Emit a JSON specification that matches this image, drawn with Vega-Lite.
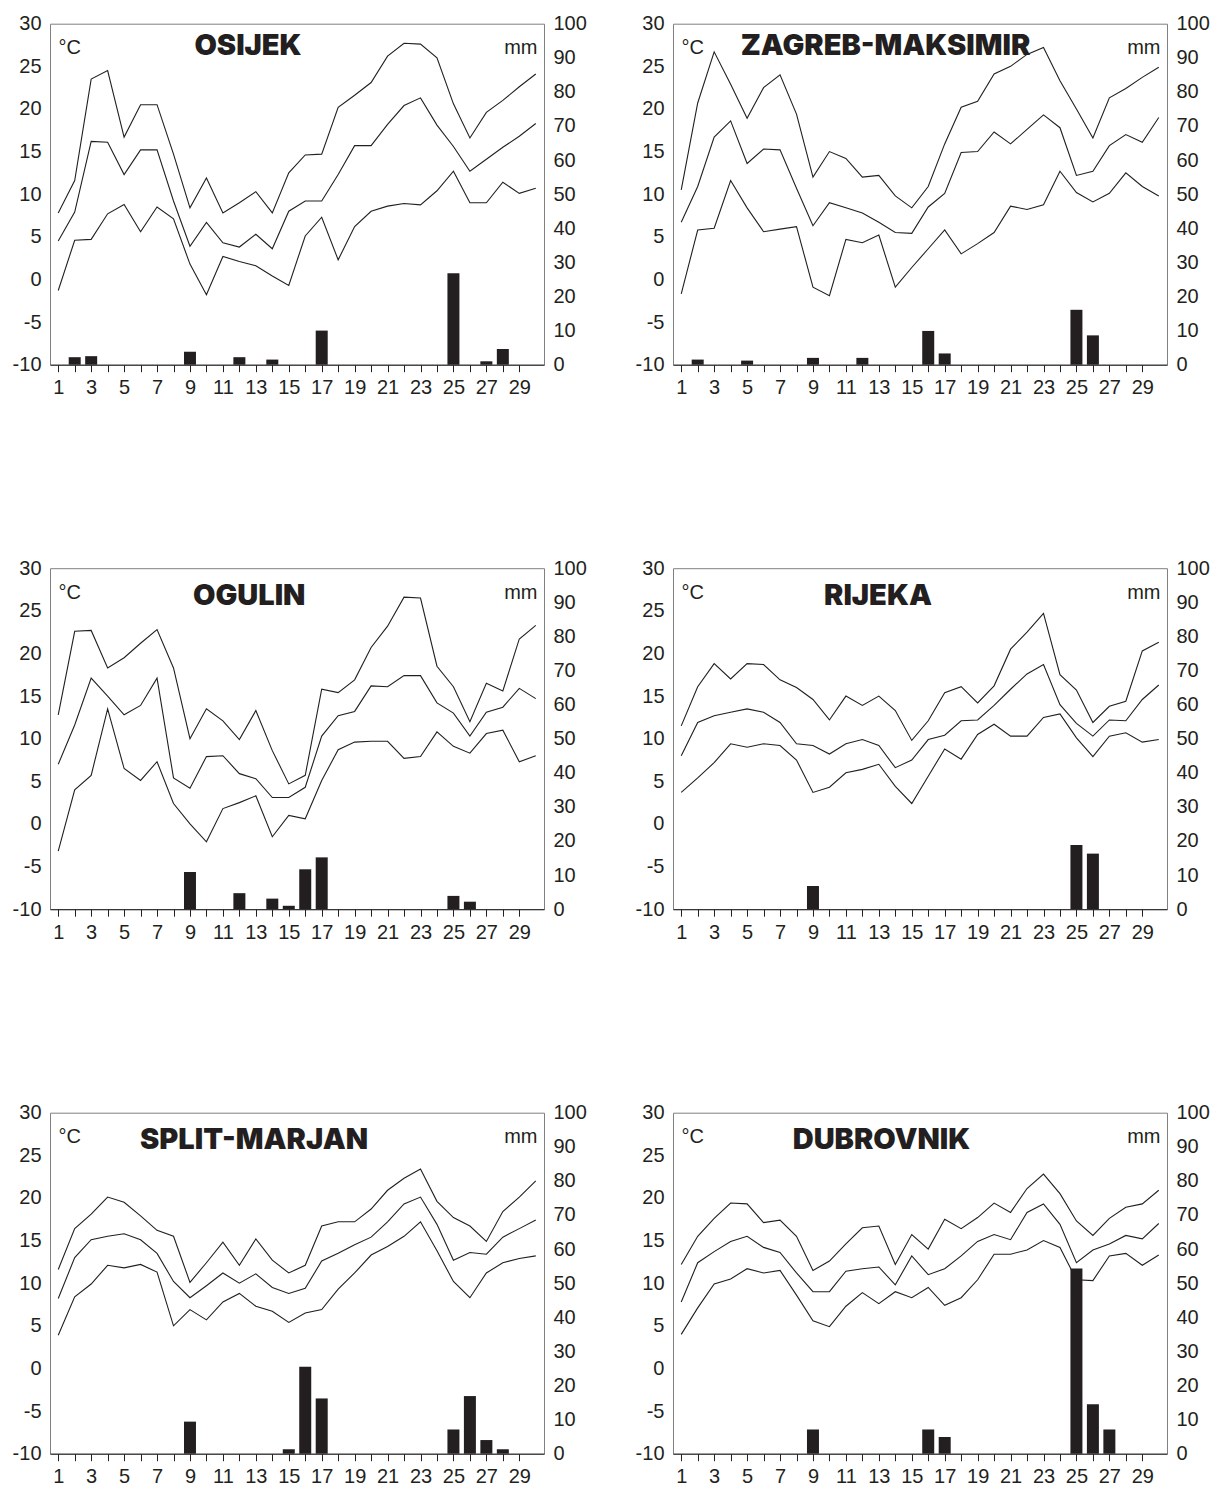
{
"$schema": "https://vega.github.io/schema/vega-lite/v6.json",
"padding": {"left": 11, "top": 12.7, "right": 0, "bottom": 0},
"background": "white",
"datasets": {"t": [
{"s":"OSIJEK","d":1,"hi":7.8,"me":4.5,"lo":-1.3,"p":0},
{"s":"OSIJEK","d":2,"hi":11.6,"me":7.9,"lo":4.6,"p":2.2},
{"s":"OSIJEK","d":3,"hi":23.5,"me":16.2,"lo":4.7,"p":2.5},
{"s":"OSIJEK","d":4,"hi":24.5,"me":16.1,"lo":7.7,"p":0},
{"s":"OSIJEK","d":5,"hi":16.7,"me":12.3,"lo":8.8,"p":0},
{"s":"OSIJEK","d":6,"hi":20.5,"me":15.2,"lo":5.6,"p":0},
{"s":"OSIJEK","d":7,"hi":20.5,"me":15.2,"lo":8.5,"p":0},
{"s":"OSIJEK","d":8,"hi":14.7,"me":9.2,"lo":7.1,"p":0},
{"s":"OSIJEK","d":9,"hi":8.4,"me":3.9,"lo":1.8,"p":3.8},
{"s":"OSIJEK","d":10,"hi":11.9,"me":6.7,"lo":-1.8,"p":0},
{"s":"OSIJEK","d":11,"hi":7.8,"me":4.3,"lo":2.7,"p":0},
{"s":"OSIJEK","d":12,"hi":9.0,"me":3.8,"lo":2.1,"p":2.2},
{"s":"OSIJEK","d":13,"hi":10.3,"me":5.3,"lo":1.6,"p":0},
{"s":"OSIJEK","d":14,"hi":7.8,"me":3.6,"lo":0.4,"p":1.5},
{"s":"OSIJEK","d":15,"hi":12.5,"me":8.0,"lo":-0.7,"p":0},
{"s":"OSIJEK","d":16,"hi":14.6,"me":9.2,"lo":5.1,"p":0},
{"s":"OSIJEK","d":17,"hi":14.7,"me":9.2,"lo":7.3,"p":10.0},
{"s":"OSIJEK","d":18,"hi":20.2,"me":12.3,"lo":2.3,"p":0},
{"s":"OSIJEK","d":19,"hi":21.6,"me":15.7,"lo":6.2,"p":0},
{"s":"OSIJEK","d":20,"hi":23.1,"me":15.7,"lo":8.0,"p":0},
{"s":"OSIJEK","d":21,"hi":26.2,"me":18.2,"lo":8.6,"p":0},
{"s":"OSIJEK","d":22,"hi":27.7,"me":20.4,"lo":8.9,"p":0},
{"s":"OSIJEK","d":23,"hi":27.6,"me":21.3,"lo":8.75,"p":0},
{"s":"OSIJEK","d":24,"hi":26.0,"me":18.1,"lo":10.4,"p":0},
{"s":"OSIJEK","d":25,"hi":20.6,"me":15.6,"lo":12.7,"p":26.8},
{"s":"OSIJEK","d":26,"hi":16.6,"me":12.7,"lo":9.0,"p":0},
{"s":"OSIJEK","d":27,"hi":19.6,"me":14.1,"lo":9.0,"p":1.0},
{"s":"OSIJEK","d":28,"hi":21.0,"me":15.5,"lo":11.4,"p":4.6},
{"s":"OSIJEK","d":29,"hi":22.6,"me":16.8,"lo":10.1,"p":0},
{"s":"OSIJEK","d":30,"hi":24.1,"me":18.3,"lo":10.7,"p":0},
{"s":"ZAGREB","d":1,"hi":10.5,"me":6.7,"lo":-1.7,"p":0},
{"s":"ZAGREB","d":2,"hi":20.7,"me":10.9,"lo":5.8,"p":1.5},
{"s":"ZAGREB","d":3,"hi":26.7,"me":16.7,"lo":6.0,"p":0},
{"s":"ZAGREB","d":4,"hi":22.9,"me":18.6,"lo":11.6,"p":0},
{"s":"ZAGREB","d":5,"hi":18.9,"me":13.6,"lo":8.4,"p":1.2},
{"s":"ZAGREB","d":6,"hi":22.5,"me":15.3,"lo":5.6,"p":0},
{"s":"ZAGREB","d":7,"hi":24.0,"me":15.2,"lo":5.9,"p":0},
{"s":"ZAGREB","d":8,"hi":19.4,"me":10.7,"lo":6.2,"p":0},
{"s":"ZAGREB","d":9,"hi":12.0,"me":6.3,"lo":-0.9,"p":2.0},
{"s":"ZAGREB","d":10,"hi":15.0,"me":9.0,"lo":-1.9,"p":0},
{"s":"ZAGREB","d":11,"hi":14.2,"me":8.4,"lo":4.7,"p":0},
{"s":"ZAGREB","d":12,"hi":12.0,"me":7.8,"lo":4.3,"p":2.0},
{"s":"ZAGREB","d":13,"hi":12.2,"me":6.7,"lo":5.2,"p":0},
{"s":"ZAGREB","d":14,"hi":9.8,"me":5.5,"lo":-0.9,"p":0},
{"s":"ZAGREB","d":15,"hi":8.4,"me":5.4,"lo":1.4,"p":0},
{"s":"ZAGREB","d":16,"hi":10.9,"me":8.5,"lo":3.6,"p":9.9},
{"s":"ZAGREB","d":17,"hi":15.9,"me":10.1,"lo":5.8,"p":3.3},
{"s":"ZAGREB","d":18,"hi":20.2,"me":14.9,"lo":3.0,"p":0},
{"s":"ZAGREB","d":19,"hi":20.9,"me":15.0,"lo":4.2,"p":0},
{"s":"ZAGREB","d":20,"hi":24.1,"me":17.3,"lo":5.5,"p":0},
{"s":"ZAGREB","d":21,"hi":25.0,"me":15.9,"lo":8.6,"p":0},
{"s":"ZAGREB","d":22,"hi":26.4,"me":17.6,"lo":8.2,"p":0},
{"s":"ZAGREB","d":23,"hi":27.2,"me":19.3,"lo":8.75,"p":0},
{"s":"ZAGREB","d":24,"hi":23.3,"me":17.8,"lo":12.7,"p":0},
{"s":"ZAGREB","d":25,"hi":20.0,"me":12.2,"lo":10.2,"p":16.1},
{"s":"ZAGREB","d":26,"hi":16.6,"me":12.7,"lo":9.1,"p":8.6},
{"s":"ZAGREB","d":27,"hi":21.3,"me":15.7,"lo":10.1,"p":0},
{"s":"ZAGREB","d":28,"hi":22.4,"me":17.0,"lo":12.5,"p":0},
{"s":"ZAGREB","d":29,"hi":23.7,"me":16.1,"lo":10.9,"p":0},
{"s":"ZAGREB","d":30,"hi":24.9,"me":19.0,"lo":9.8,"p":0},
{"s":"OGULIN","d":1,"hi":12.8,"me":7.0,"lo":-3.2,"p":0},
{"s":"OGULIN","d":2,"hi":22.6,"me":11.6,"lo":4.0,"p":0},
{"s":"OGULIN","d":3,"hi":22.7,"me":17.1,"lo":5.7,"p":0},
{"s":"OGULIN","d":4,"hi":18.3,"me":15.0,"lo":13.5,"p":0},
{"s":"OGULIN","d":5,"hi":19.5,"me":12.8,"lo":6.5,"p":0},
{"s":"OGULIN","d":6,"hi":21.2,"me":13.9,"lo":5.1,"p":0},
{"s":"OGULIN","d":7,"hi":22.8,"me":17.1,"lo":7.3,"p":0},
{"s":"OGULIN","d":8,"hi":18.3,"me":5.4,"lo":2.4,"p":0},
{"s":"OGULIN","d":9,"hi":10.0,"me":4.2,"lo":0.0,"p":10.9},
{"s":"OGULIN","d":10,"hi":13.5,"me":7.9,"lo":-2.1,"p":0},
{"s":"OGULIN","d":11,"hi":12.1,"me":8.0,"lo":1.8,"p":0},
{"s":"OGULIN","d":12,"hi":9.9,"me":5.9,"lo":2.5,"p":4.7},
{"s":"OGULIN","d":13,"hi":13.3,"me":5.3,"lo":3.3,"p":0},
{"s":"OGULIN","d":14,"hi":8.6,"me":3.1,"lo":-1.5,"p":3.1},
{"s":"OGULIN","d":15,"hi":4.7,"me":3.1,"lo":1.0,"p":1.0},
{"s":"OGULIN","d":16,"hi":5.7,"me":4.3,"lo":0.6,"p":11.7},
{"s":"OGULIN","d":17,"hi":15.8,"me":10.3,"lo":5.1,"p":15.2},
{"s":"OGULIN","d":18,"hi":15.4,"me":12.7,"lo":8.7,"p":0},
{"s":"OGULIN","d":19,"hi":16.9,"me":13.2,"lo":9.6,"p":0},
{"s":"OGULIN","d":20,"hi":20.7,"me":16.2,"lo":9.7,"p":0},
{"s":"OGULIN","d":21,"hi":23.2,"me":16.1,"lo":9.7,"p":0},
{"s":"OGULIN","d":22,"hi":26.6,"me":17.4,"lo":7.7,"p":0},
{"s":"OGULIN","d":23,"hi":26.5,"me":17.4,"lo":7.9,"p":0},
{"s":"OGULIN","d":24,"hi":18.5,"me":14.2,"lo":10.8,"p":0},
{"s":"OGULIN","d":25,"hi":16.1,"me":13.0,"lo":9.1,"p":3.9},
{"s":"OGULIN","d":26,"hi":12.0,"me":10.3,"lo":8.3,"p":2.2},
{"s":"OGULIN","d":27,"hi":16.5,"me":13.1,"lo":10.6,"p":0},
{"s":"OGULIN","d":28,"hi":15.6,"me":13.7,"lo":11.0,"p":0},
{"s":"OGULIN","d":29,"hi":21.7,"me":15.9,"lo":7.3,"p":0},
{"s":"OGULIN","d":30,"hi":23.3,"me":14.7,"lo":8.0,"p":0},
{"s":"RIJEKA","d":1,"hi":11.5,"me":8.0,"lo":3.7,"p":0},
{"s":"RIJEKA","d":2,"hi":16.1,"me":11.9,"lo":5.4,"p":0},
{"s":"RIJEKA","d":3,"hi":18.8,"me":12.7,"lo":7.2,"p":0},
{"s":"RIJEKA","d":4,"hi":17.0,"me":13.1,"lo":9.4,"p":0},
{"s":"RIJEKA","d":5,"hi":18.8,"me":13.5,"lo":9.0,"p":0},
{"s":"RIJEKA","d":6,"hi":18.7,"me":13.1,"lo":9.4,"p":0},
{"s":"RIJEKA","d":7,"hi":16.9,"me":11.9,"lo":9.2,"p":0},
{"s":"RIJEKA","d":8,"hi":16.0,"me":9.4,"lo":7.5,"p":0},
{"s":"RIJEKA","d":9,"hi":14.6,"me":9.2,"lo":3.7,"p":6.8},
{"s":"RIJEKA","d":10,"hi":12.2,"me":8.2,"lo":4.3,"p":0},
{"s":"RIJEKA","d":11,"hi":15.0,"me":9.4,"lo":6.0,"p":0},
{"s":"RIJEKA","d":12,"hi":13.9,"me":9.9,"lo":6.4,"p":0},
{"s":"RIJEKA","d":13,"hi":15.0,"me":9.2,"lo":7.0,"p":0},
{"s":"RIJEKA","d":14,"hi":13.3,"me":6.6,"lo":4.4,"p":0},
{"s":"RIJEKA","d":15,"hi":9.8,"me":7.5,"lo":2.4,"p":0},
{"s":"RIJEKA","d":16,"hi":12.1,"me":9.9,"lo":5.6,"p":0},
{"s":"RIJEKA","d":17,"hi":15.4,"me":10.4,"lo":8.8,"p":0},
{"s":"RIJEKA","d":18,"hi":16.1,"me":12.1,"lo":7.6,"p":0},
{"s":"RIJEKA","d":19,"hi":14.2,"me":12.2,"lo":10.5,"p":0},
{"s":"RIJEKA","d":20,"hi":16.2,"me":13.9,"lo":11.7,"p":0},
{"s":"RIJEKA","d":21,"hi":20.5,"me":15.8,"lo":10.3,"p":0},
{"s":"RIJEKA","d":22,"hi":22.5,"me":17.6,"lo":10.3,"p":0},
{"s":"RIJEKA","d":23,"hi":24.7,"me":18.7,"lo":12.5,"p":0},
{"s":"RIJEKA","d":24,"hi":17.5,"me":14.0,"lo":12.9,"p":0},
{"s":"RIJEKA","d":25,"hi":15.7,"me":11.8,"lo":10.1,"p":18.8},
{"s":"RIJEKA","d":26,"hi":11.9,"me":10.3,"lo":7.9,"p":16.3},
{"s":"RIJEKA","d":27,"hi":13.8,"me":12.2,"lo":10.3,"p":0},
{"s":"RIJEKA","d":28,"hi":14.4,"me":12.1,"lo":10.7,"p":0},
{"s":"RIJEKA","d":29,"hi":20.3,"me":14.6,"lo":9.6,"p":0},
{"s":"RIJEKA","d":30,"hi":21.3,"me":16.3,"lo":9.9,"p":0},
{"s":"SPLIT","d":1,"hi":11.6,"me":8.2,"lo":3.9,"p":0},
{"s":"SPLIT","d":2,"hi":16.4,"me":13.0,"lo":8.4,"p":0},
{"s":"SPLIT","d":3,"hi":18.1,"me":15.1,"lo":9.9,"p":0},
{"s":"SPLIT","d":4,"hi":20.1,"me":15.5,"lo":12.1,"p":0},
{"s":"SPLIT","d":5,"hi":19.5,"me":15.8,"lo":11.8,"p":0},
{"s":"SPLIT","d":6,"hi":17.9,"me":15.1,"lo":12.2,"p":0},
{"s":"SPLIT","d":7,"hi":16.2,"me":13.5,"lo":11.3,"p":0},
{"s":"SPLIT","d":8,"hi":15.5,"me":10.2,"lo":5.0,"p":0},
{"s":"SPLIT","d":9,"hi":10.1,"me":8.3,"lo":6.9,"p":9.4},
{"s":"SPLIT","d":10,"hi":12.4,"me":9.7,"lo":5.7,"p":0},
{"s":"SPLIT","d":11,"hi":14.8,"me":11.2,"lo":7.8,"p":0},
{"s":"SPLIT","d":12,"hi":12.1,"me":10.0,"lo":8.8,"p":0},
{"s":"SPLIT","d":13,"hi":15.2,"me":11.1,"lo":7.3,"p":0},
{"s":"SPLIT","d":14,"hi":12.7,"me":9.5,"lo":6.7,"p":0},
{"s":"SPLIT","d":15,"hi":11.2,"me":8.8,"lo":5.4,"p":1.3},
{"s":"SPLIT","d":16,"hi":12.1,"me":9.4,"lo":6.5,"p":25.5},
{"s":"SPLIT","d":17,"hi":16.7,"me":12.6,"lo":6.9,"p":16.2},
{"s":"SPLIT","d":18,"hi":17.2,"me":13.5,"lo":9.3,"p":0},
{"s":"SPLIT","d":19,"hi":17.2,"me":14.5,"lo":11.2,"p":0},
{"s":"SPLIT","d":20,"hi":18.7,"me":15.4,"lo":13.3,"p":0},
{"s":"SPLIT","d":21,"hi":20.9,"me":17.2,"lo":14.3,"p":0},
{"s":"SPLIT","d":22,"hi":22.3,"me":19.3,"lo":15.5,"p":0},
{"s":"SPLIT","d":23,"hi":23.4,"me":20.1,"lo":17.2,"p":0},
{"s":"SPLIT","d":24,"hi":19.6,"me":16.9,"lo":13.8,"p":0},
{"s":"SPLIT","d":25,"hi":17.7,"me":12.7,"lo":10.2,"p":7.1},
{"s":"SPLIT","d":26,"hi":16.7,"me":13.6,"lo":8.3,"p":16.9},
{"s":"SPLIT","d":27,"hi":14.9,"me":13.4,"lo":11.2,"p":4.0},
{"s":"SPLIT","d":28,"hi":18.4,"me":15.4,"lo":12.4,"p":1.3},
{"s":"SPLIT","d":29,"hi":20.1,"me":16.4,"lo":12.9,"p":0},
{"s":"SPLIT","d":30,"hi":22.0,"me":17.4,"lo":13.2,"p":0},
{"s":"DUBROVNIK","d":1,"hi":12.2,"me":7.8,"lo":4.0,"p":0},
{"s":"DUBROVNIK","d":2,"hi":15.5,"me":12.4,"lo":7.1,"p":0},
{"s":"DUBROVNIK","d":3,"hi":17.6,"me":13.7,"lo":9.9,"p":0},
{"s":"DUBROVNIK","d":4,"hi":19.4,"me":14.9,"lo":10.5,"p":0},
{"s":"DUBROVNIK","d":5,"hi":19.3,"me":15.5,"lo":11.7,"p":0},
{"s":"DUBROVNIK","d":6,"hi":17.1,"me":14.2,"lo":11.2,"p":0},
{"s":"DUBROVNIK","d":7,"hi":17.4,"me":13.6,"lo":11.5,"p":0},
{"s":"DUBROVNIK","d":8,"hi":15.5,"me":11.2,"lo":8.6,"p":0},
{"s":"DUBROVNIK","d":9,"hi":11.5,"me":9.0,"lo":5.6,"p":7.1},
{"s":"DUBROVNIK","d":10,"hi":12.6,"me":9.0,"lo":4.9,"p":0},
{"s":"DUBROVNIK","d":11,"hi":14.6,"me":11.4,"lo":7.3,"p":0},
{"s":"DUBROVNIK","d":12,"hi":16.5,"me":11.7,"lo":8.9,"p":0},
{"s":"DUBROVNIK","d":13,"hi":16.7,"me":11.9,"lo":7.6,"p":0},
{"s":"DUBROVNIK","d":14,"hi":12.2,"me":9.8,"lo":9.0,"p":0},
{"s":"DUBROVNIK","d":15,"hi":15.7,"me":13.2,"lo":8.3,"p":0},
{"s":"DUBROVNIK","d":16,"hi":14.0,"me":11.0,"lo":9.5,"p":7.1},
{"s":"DUBROVNIK","d":17,"hi":17.5,"me":11.7,"lo":7.4,"p":4.9},
{"s":"DUBROVNIK","d":18,"hi":16.4,"me":13.2,"lo":8.3,"p":0},
{"s":"DUBROVNIK","d":19,"hi":17.7,"me":14.9,"lo":10.4,"p":0},
{"s":"DUBROVNIK","d":20,"hi":19.4,"me":15.7,"lo":13.4,"p":0},
{"s":"DUBROVNIK","d":21,"hi":18.3,"me":15.1,"lo":13.4,"p":0},
{"s":"DUBROVNIK","d":22,"hi":21.1,"me":18.3,"lo":13.9,"p":0},
{"s":"DUBROVNIK","d":23,"hi":22.8,"me":19.3,"lo":15.0,"p":0},
{"s":"DUBROVNIK","d":24,"hi":20.5,"me":16.9,"lo":14.2,"p":0},
{"s":"DUBROVNIK","d":25,"hi":17.3,"me":12.4,"lo":10.4,"p":54.3},
{"s":"DUBROVNIK","d":26,"hi":15.6,"me":13.9,"lo":10.3,"p":14.5},
{"s":"DUBROVNIK","d":27,"hi":17.6,"me":14.6,"lo":13.2,"p":7.1},
{"s":"DUBROVNIK","d":28,"hi":18.9,"me":15.6,"lo":13.5,"p":0},
{"s":"DUBROVNIK","d":29,"hi":19.3,"me":15.2,"lo":12.1,"p":0},
{"s":"DUBROVNIK","d":30,"hi":20.9,"me":17.0,"lo":13.3,"p":0}
]},
"columns": 2,
"spacing": {"row": 203.5, "column": 129},
"bounds": "flush",
"concat": [
{"width": 494, "height": 341, "data": {"name": "t"}, "transform": [{"filter": "datum.s == 'OSIJEK'"}],
 "layer": [
  {"transform": [{"fold": ["hi", "me", "lo"]}], "mark": {"type": "line", "color": "#231f20", "strokeWidth": 1.1},
   "encoding": {"x": {"field": "d", "type": "quantitative", "scale": {"domain": [0.5, 30.5], "padding": 0}, "axis": {"values": [1,2,3,4,5,6,7,8,9,10,11,12,13,14,15,16,17,18,19,20,21,22,23,24,25,26,27,28,29], "labelExpr": "datum.value % 2 == 1 ? '' + datum.value : ''", "title": null}},
    "y": {"field": "value", "type": "quantitative", "scale": {"domain": [-10, 30]}, "axis": {"values": [-10,-5,0,5,10,15,20,25,30], "labelExpr": "'' + datum.value", "title": "°C"}},
    "detail": {"field": "key"}}},
  {"transform": [{"filter": "datum.p > 0"}], "mark": {"type": "bar", "orient": "vertical", "size": 12, "color": "#231f20"},
   "encoding": {"x": {"field": "d", "type": "quantitative", "scale": {"domain": [0.5, 30.5], "padding": 0}, "axis": {"orient": "top", "title": "OSIJEK", "titleX": 197.5, "titleY": 31}},
    "y": {"field": "p", "type": "quantitative", "scale": {"domain": [0, 100]}, "axis": {"orient": "right", "values": [0,10,20,30,40,50,60,70,80,90,100], "title": "mm"}}}}
 ],
 "resolve": {"scale": {"y": "independent", "x": "independent"}}},
{"width": 494, "height": 341, "data": {"name": "t"}, "transform": [{"filter": "datum.s == 'ZAGREB'"}],
 "layer": [
  {"transform": [{"fold": ["hi", "me", "lo"]}], "mark": {"type": "line", "color": "#231f20", "strokeWidth": 1.1},
   "encoding": {"x": {"field": "d", "type": "quantitative", "scale": {"domain": [0.5, 30.5], "padding": 0}, "axis": {"values": [1,2,3,4,5,6,7,8,9,10,11,12,13,14,15,16,17,18,19,20,21,22,23,24,25,26,27,28,29], "labelExpr": "datum.value % 2 == 1 ? '' + datum.value : ''", "title": null}},
    "y": {"field": "value", "type": "quantitative", "scale": {"domain": [-10, 30]}, "axis": {"values": [-10,-5,0,5,10,15,20,25,30], "labelExpr": "'' + datum.value", "title": "°C"}},
    "detail": {"field": "key"}}},
  {"transform": [{"filter": "datum.p > 0"}], "mark": {"type": "bar", "orient": "vertical", "size": 12, "color": "#231f20"},
   "encoding": {"x": {"field": "d", "type": "quantitative", "scale": {"domain": [0.5, 30.5], "padding": 0}, "axis": {"orient": "top", "title": "ZAGREB-MAKSIMIR", "titleX": 212, "titleY": 31}},
    "y": {"field": "p", "type": "quantitative", "scale": {"domain": [0, 100]}, "axis": {"orient": "right", "values": [0,10,20,30,40,50,60,70,80,90,100], "title": "mm"}}}}
 ],
 "resolve": {"scale": {"y": "independent", "x": "independent"}}},
{"width": 494, "height": 341, "data": {"name": "t"}, "transform": [{"filter": "datum.s == 'OGULIN'"}],
 "layer": [
  {"transform": [{"fold": ["hi", "me", "lo"]}], "mark": {"type": "line", "color": "#231f20", "strokeWidth": 1.1},
   "encoding": {"x": {"field": "d", "type": "quantitative", "scale": {"domain": [0.5, 30.5], "padding": 0}, "axis": {"values": [1,2,3,4,5,6,7,8,9,10,11,12,13,14,15,16,17,18,19,20,21,22,23,24,25,26,27,28,29], "labelExpr": "datum.value % 2 == 1 ? '' + datum.value : ''", "title": null}},
    "y": {"field": "value", "type": "quantitative", "scale": {"domain": [-10, 30]}, "axis": {"values": [-10,-5,0,5,10,15,20,25,30], "labelExpr": "'' + datum.value", "title": "°C"}},
    "detail": {"field": "key"}}},
  {"transform": [{"filter": "datum.p > 0"}], "mark": {"type": "bar", "orient": "vertical", "size": 12, "color": "#231f20"},
   "encoding": {"x": {"field": "d", "type": "quantitative", "scale": {"domain": [0.5, 30.5], "padding": 0}, "axis": {"orient": "top", "title": "OGULIN", "titleX": 198.7, "titleY": 36}},
    "y": {"field": "p", "type": "quantitative", "scale": {"domain": [0, 100]}, "axis": {"orient": "right", "values": [0,10,20,30,40,50,60,70,80,90,100], "title": "mm"}}}}
 ],
 "resolve": {"scale": {"y": "independent", "x": "independent"}}},
{"width": 494, "height": 341, "data": {"name": "t"}, "transform": [{"filter": "datum.s == 'RIJEKA'"}],
 "layer": [
  {"transform": [{"fold": ["hi", "me", "lo"]}], "mark": {"type": "line", "color": "#231f20", "strokeWidth": 1.1},
   "encoding": {"x": {"field": "d", "type": "quantitative", "scale": {"domain": [0.5, 30.5], "padding": 0}, "axis": {"values": [1,2,3,4,5,6,7,8,9,10,11,12,13,14,15,16,17,18,19,20,21,22,23,24,25,26,27,28,29], "labelExpr": "datum.value % 2 == 1 ? '' + datum.value : ''", "title": null}},
    "y": {"field": "value", "type": "quantitative", "scale": {"domain": [-10, 30]}, "axis": {"values": [-10,-5,0,5,10,15,20,25,30], "labelExpr": "'' + datum.value", "title": "°C"}},
    "detail": {"field": "key"}}},
  {"transform": [{"filter": "datum.p > 0"}], "mark": {"type": "bar", "orient": "vertical", "size": 12, "color": "#231f20"},
   "encoding": {"x": {"field": "d", "type": "quantitative", "scale": {"domain": [0.5, 30.5], "padding": 0}, "axis": {"orient": "top", "title": "RIJEKA", "titleX": 204.5, "titleY": 36}},
    "y": {"field": "p", "type": "quantitative", "scale": {"domain": [0, 100]}, "axis": {"orient": "right", "values": [0,10,20,30,40,50,60,70,80,90,100], "title": "mm"}}}}
 ],
 "resolve": {"scale": {"y": "independent", "x": "independent"}}},
{"width": 494, "height": 341, "data": {"name": "t"}, "transform": [{"filter": "datum.s == 'SPLIT'"}],
 "layer": [
  {"transform": [{"fold": ["hi", "me", "lo"]}], "mark": {"type": "line", "color": "#231f20", "strokeWidth": 1.1},
   "encoding": {"x": {"field": "d", "type": "quantitative", "scale": {"domain": [0.5, 30.5], "padding": 0}, "axis": {"values": [1,2,3,4,5,6,7,8,9,10,11,12,13,14,15,16,17,18,19,20,21,22,23,24,25,26,27,28,29], "labelExpr": "datum.value % 2 == 1 ? '' + datum.value : ''", "title": null}},
    "y": {"field": "value", "type": "quantitative", "scale": {"domain": [-10, 30]}, "axis": {"values": [-10,-5,0,5,10,15,20,25,30], "labelExpr": "'' + datum.value", "title": "°C"}},
    "detail": {"field": "key"}}},
  {"transform": [{"filter": "datum.p > 0"}], "mark": {"type": "bar", "orient": "vertical", "size": 12, "color": "#231f20"},
   "encoding": {"x": {"field": "d", "type": "quantitative", "scale": {"domain": [0.5, 30.5], "padding": 0}, "axis": {"orient": "top", "title": "SPLIT-MARJAN", "titleX": 203.5, "titleY": 36}},
    "y": {"field": "p", "type": "quantitative", "scale": {"domain": [0, 100]}, "axis": {"orient": "right", "values": [0,10,20,30,40,50,60,70,80,90,100], "title": "mm"}}}}
 ],
 "resolve": {"scale": {"y": "independent", "x": "independent"}}},
{"width": 494, "height": 341, "data": {"name": "t"}, "transform": [{"filter": "datum.s == 'DUBROVNIK'"}],
 "layer": [
  {"transform": [{"fold": ["hi", "me", "lo"]}], "mark": {"type": "line", "color": "#231f20", "strokeWidth": 1.1},
   "encoding": {"x": {"field": "d", "type": "quantitative", "scale": {"domain": [0.5, 30.5], "padding": 0}, "axis": {"values": [1,2,3,4,5,6,7,8,9,10,11,12,13,14,15,16,17,18,19,20,21,22,23,24,25,26,27,28,29], "labelExpr": "datum.value % 2 == 1 ? '' + datum.value : ''", "title": null}},
    "y": {"field": "value", "type": "quantitative", "scale": {"domain": [-10, 30]}, "axis": {"values": [-10,-5,0,5,10,15,20,25,30], "labelExpr": "'' + datum.value", "title": "°C"}},
    "detail": {"field": "key"}}},
  {"transform": [{"filter": "datum.p > 0"}], "mark": {"type": "bar", "orient": "vertical", "size": 12, "color": "#231f20"},
   "encoding": {"x": {"field": "d", "type": "quantitative", "scale": {"domain": [0.5, 30.5], "padding": 0}, "axis": {"orient": "top", "title": "DUBROVNIK", "titleX": 208, "titleY": 36}},
    "y": {"field": "p", "type": "quantitative", "scale": {"domain": [0, 100]}, "axis": {"orient": "right", "values": [0,10,20,30,40,50,60,70,80,90,100], "title": "mm"}}}}
 ],
 "resolve": {"scale": {"y": "independent", "x": "independent"}}}
],
"config": {
 "view": {"stroke": "#7f7f7f", "strokeWidth": 1},
 "font": "Liberation Sans",
 "axis": {"grid": false, "labelFont": "Liberation Sans", "labelFontSize": 20, "labelColor": "#231f20", "titleFont": "Liberation Sans", "titleFontSize": 20, "titleFontWeight": "normal", "titleColor": "#231f20", "labelOverlap": false, "labelFlush": false},
 "axisBottom": {"tickSize": 7, "tickColor": "#231f20", "domainColor": "#231f20", "labelPadding": 6},
 "axisTop": {"labels": false, "ticks": false, "tickSize": 0, "domain": false, "titleAngle": 0, "titleAlign": "center", "titleBaseline": "alphabetic", "titleFont": "Inter", "titleFontWeight": 900, "titleFontSize": 29, "titleColor": "#231f20"},
 "axisLeft": {"ticks": false, "tickSize": 0, "domain": false, "labelPadding": 9, "titleAngle": 0, "titleX": 8, "titleY": 30, "titleAlign": "left", "titleBaseline": "alphabetic"},
 "axisRight": {"ticks": false, "tickSize": 0, "domain": false, "labelPadding": 9, "titleAngle": 0, "titleX": -7, "titleY": 30, "titleAlign": "right", "titleBaseline": "alphabetic"}
}
}
